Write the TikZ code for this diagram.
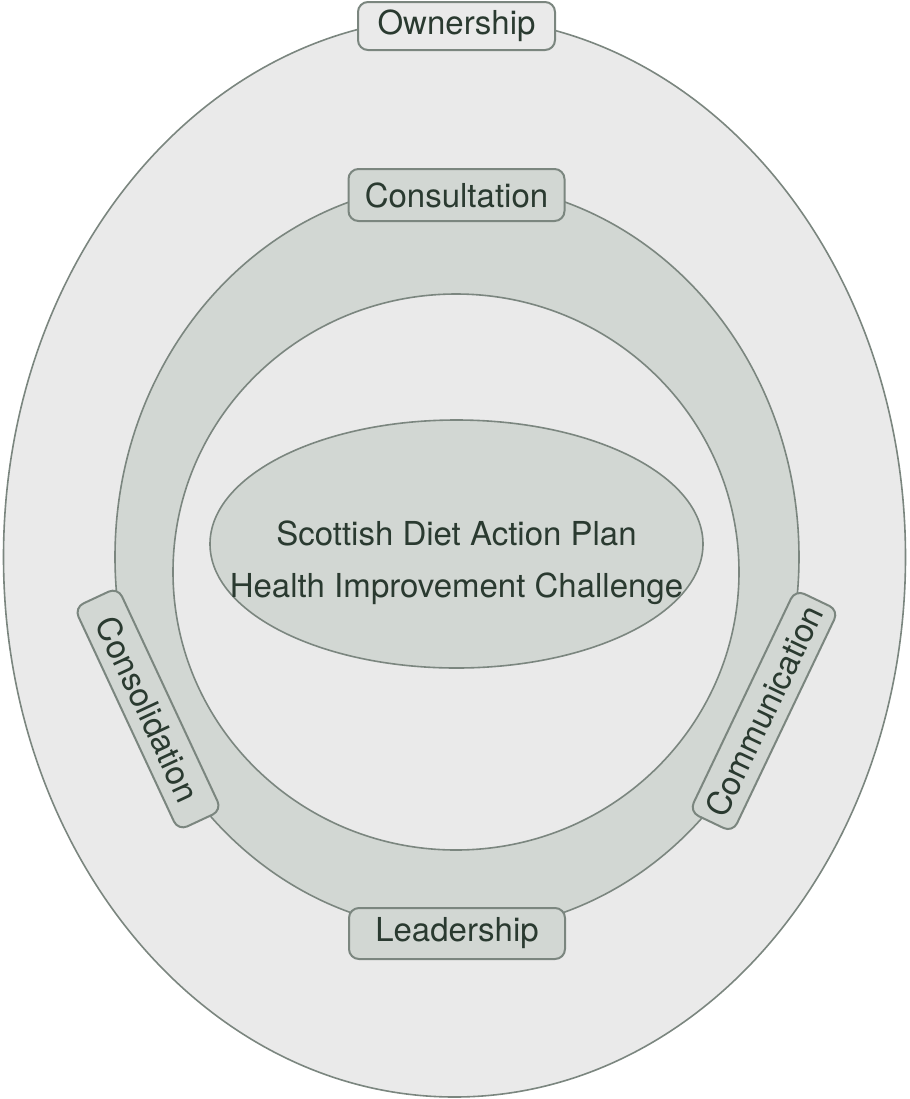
\documentclass[tikz,border=0pt]{standalone}
\usepackage{fontspec}
\setmainfont{TeX Gyre Heros}
\usetikzlibrary{shapes.geometric}

\definecolor{paleGrey}{HTML}{EAEAEA}
\definecolor{sageGrey}{HTML}{D2D7D3}
\definecolor{rimGrey}{HTML}{7B867F}
\definecolor{inkDark}{HTML}{2A3A30}

\tikzset{
  layer/.style={draw=rimGrey, line width=0.8pt},
  tag/.style={draw=rimGrey, line width=1pt, rounded corners=5pt, fill=sageGrey,
    text=inkDark, inner sep=0pt, font=\fontsize{16.5}{20}\selectfont},
}

\begin{document}
\begin{tikzpicture}[x=0.5pt,y=-0.5pt]
	%%%%% START %%%%%
	\useasboundingbox (0,0) rectangle (910,1099);
	
	% nested rings
	\draw[layer, fill=paleGrey] (454.5,557) ellipse [x radius=225.5pt, y radius=270pt];
	\draw[layer, fill=sageGrey] (457,557) ellipse [x radius=171pt, y radius=187pt];
	\draw[layer, fill=paleGrey] (456,572) ellipse [x radius=141.5pt, y radius=139pt];
	
	% centre
	\node[layer, fill=sageGrey, ellipse, minimum width=246.5pt, minimum height=124pt, inner sep=0pt] (core) at (456.5,544) {};
	\node[text=inkDark, align=center, font=\fontsize{16.5}{26}\selectfont] (aims) at (456.5,563)
		{Scottish Diet Action Plan\\Health Improvement Challenge};
	
	% labels on the rings
	\node[tag, fill=paleGrey, minimum width=98.5pt, minimum height=24pt] (ownership) at (456.5,26) {Ownership};
	\node[tag, minimum width=108pt, minimum height=26pt] (consultation) at (456.5,195) {Consultation};
	\node[tag, minimum width=108pt, minimum height=25.5pt] (leadership) at (457,933.5) {Leadership};
	\node[tag, rotate=-65, minimum width=123pt, minimum height=24pt] (consolidation) at (148,709) {Consolidation};
	\node[tag, rotate=64.5, minimum width=123pt, minimum height=24pt] (communication) at (764,711) {Communication};
	
	%%%%% END %%%%%
\end{tikzpicture}
\end{document}
